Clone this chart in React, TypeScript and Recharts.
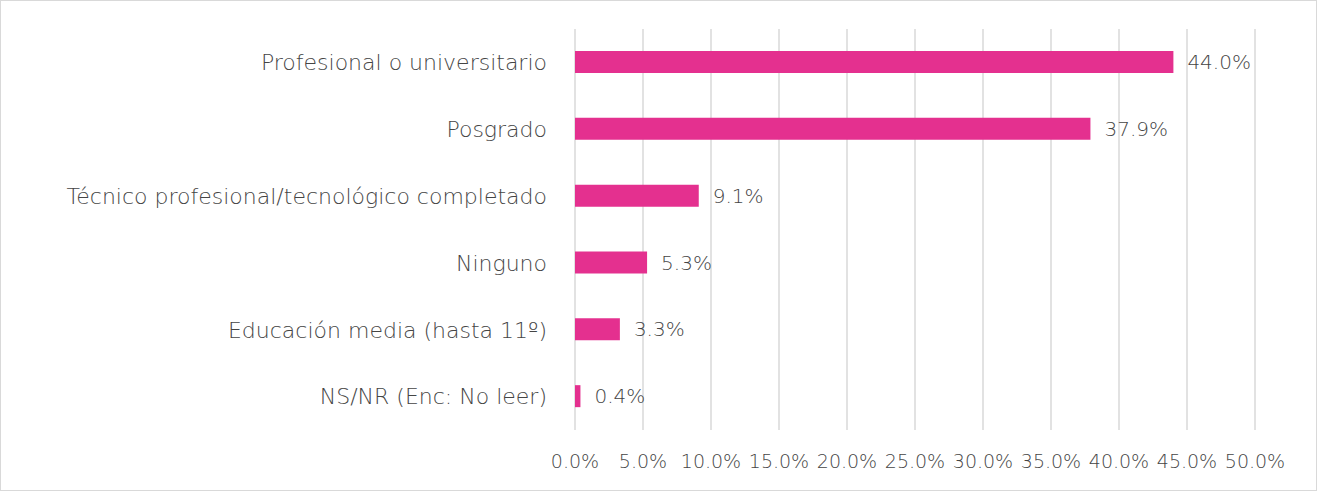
import { BarChart, Bar, XAxis, YAxis, CartesianGrid, LabelList } from 'recharts';

// Nivel educativo
const categories = [
    'Profesional o universitario',
    'Posgrado',
    'Técnico profesional/tecnológico completado',
    'Ninguno',
    'Educación media (hasta 11º)',
    'NS/NR (Enc: No leer)',
];
const values = [44.0, 37.9, 9.1, 5.3, 3.3, 0.4];
const xTicks = [0, 5, 10, 15, 20, 25, 30, 35, 40, 45, 50];

const data = categories.map((name, i) => ({ name, value: values[i] }));

const FONT = '"DejaVu Sans", sans-serif';
const TEXT = '#454545';

export default function App() {
    return (
        <div
            style={{
                position: 'absolute',
                top: 0,
                left: 0,
                width: 1317,
                height: 491,
                boxSizing: 'border-box',
                border: '1px solid #d9d9d9',
                background: '#fff',
                fontFamily: FONT,
            }}
        >
            <BarChart
                width={1315}
                height={489}
                data={data}
                layout="vertical"
                margin={{ top: 28, right: 61, left: 0, bottom: 0 }}
                barCategoryGap={22}
            >
                <CartesianGrid horizontal={false} stroke="#d9d9d9" strokeWidth={1.5} />
                <XAxis
                    type="number"
                    domain={[0, 50]}
                    ticks={xTicks}
                    interval={0}
                    axisLine={false}
                    tickLine={false}
                    height={60}
                    tickMargin={19}
                    tickFormatter={(v: number) => `${v.toFixed(1)}%`}
                    tick={{ fill: TEXT, fontSize: 19, fontWeight: 300, fontFamily: FONT }}
                />
                <YAxis
                    type="category"
                    dataKey="name"
                    width={574}
                    axisLine={false}
                    tickLine={false}
                    tickMargin={22}
                    tick={{ fill: TEXT, fontSize: 22, fontWeight: 300, fontFamily: FONT }}
                />
                <Bar dataKey="value" fill="#E4308F" barSize={22} isAnimationActive={false}>
                    <LabelList
                        dataKey="value"
                        position="right"
                        offset={14}
                        formatter={(v: any) => `${Number(v).toFixed(1)}%`}
                        style={{ fill: TEXT, fontSize: 20, fontWeight: 300, fontFamily: FONT }}
                    />
                </Bar>
            </BarChart>
        </div>
    );
}
